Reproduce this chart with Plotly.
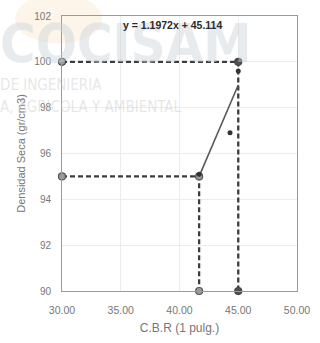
import plotly.graph_objects as go

# Trend line of dry density vs. CBR
slope = 1.1972
intercept = 45.114

# Measured points
cbr = [41.67, 44.3, 45.0]
densidad = [95.1, 96.9, 99.6]

# Reference levels (100 % and 95 % of maximum dry density)
cbr_100 = 45.0
cbr_95 = 41.67
dens_100 = 100
dens_95 = 95
x_min, x_max = 30, 50
y_min, y_max = 90, 102

x_ticks = [30, 35, 40, 45, 50]
x_tick_labels = ["30.00", "35.00", "40.00", "45.00", "50.00"]
y_ticks = [90, 92, 94, 96, 98, 100, 102]

font_family = "Liberation Sans, Arial"
dash_color = "#3c3c3c"
mark_font = "DejaVu Sans Condensed, DejaVu Sans"

fig = go.Figure()

# 95 % guide
fig.add_trace(go.Scatter(
    x=[x_min, cbr_95, cbr_95], y=[dens_95, dens_95, y_min],
    mode="lines+markers",
    line=dict(color=dash_color, width=2.3, dash="5px,3px"),
    marker=dict(size=7, color="#9a9a9a", line=dict(color="#555", width=1.2)),
    hoverinfo="skip", showlegend=False, cliponaxis=False,
))

# 100 % guide
fig.add_trace(go.Scatter(
    x=[x_min, cbr_100, cbr_100], y=[dens_100, dens_100, y_min],
    mode="lines+markers",
    line=dict(color=dash_color, width=2.3, dash="5px,3px"),
    marker=dict(size=7, color=["#9a9a9a", "#505050", "#505050"],
                line=dict(color="#444", width=1.2)),
    hoverinfo="skip", showlegend=False, cliponaxis=False,
))

# Linear trend over the measured range
tx = [min(cbr), max(cbr)]
ty = [slope * v + intercept for v in tx]
fig.add_trace(go.Scatter(
    x=tx, y=ty, mode="lines",
    line=dict(color="#5a5a5a", width=1.6),
    hoverinfo="skip", showlegend=False,
))

# Measured points
fig.add_trace(go.Scatter(
    x=cbr, y=densidad, mode="markers",
    marker=dict(size=5, color="#333333"),
    showlegend=False,
))

# Faded letterhead behind the plot
fig.add_shape(type="circle", xref="paper", yref="paper", layer="below",
              x0=-0.2, x1=0.17, y0=0.9, y1=1.08,
              fillcolor="rgba(246,205,160,0.22)", line=dict(width=0))
fig.add_annotation(x=0.0, y=1.0, xref="paper", yref="paper", xanchor="left", yanchor="top",
                   xshift=-64, yshift=6,
                   text="<b>COCISAM</b>", showarrow=False,
                   font=dict(family=mark_font, size=54, color="rgba(205,210,215,0.45)"))
fig.add_annotation(x=0.0, y=1.0, xref="paper", yref="paper", xanchor="left", yanchor="top",
                   xshift=-64, yshift=-58,
                   text="DE INGENIERIA", showarrow=False,
                   font=dict(family=mark_font, size=15, color="rgba(200,200,200,0.45)"))
fig.add_annotation(x=0.0, y=1.0, xref="paper", yref="paper", xanchor="left", yanchor="top",
                   xshift=-64, yshift=-80,
                   text="A, AGRICOLA Y AMBIENTAL", showarrow=False,
                   font=dict(family=mark_font, size=15, color="rgba(200,200,200,0.45)"))

# Trend equation
fig.add_annotation(x=0.47, y=0.995, xref="paper", yref="paper", xanchor="center", yanchor="top",
                   text="<b>y = %.4fx + %.3f</b>" % (slope, intercept), showarrow=False,
                   font=dict(family=font_family, size=10.5, color="#2a2a2a"))

fig.update_layout(
    width=320, height=343,
    margin=dict(l=62, r=17, t=10, b=51),
    paper_bgcolor="white", plot_bgcolor="white",
    font=dict(family=font_family, size=10, color="#777777"),
)
fig.update_xaxes(
    range=[x_min, x_max], tickvals=x_ticks, ticktext=x_tick_labels,
    showgrid=True, gridcolor="#ececec", gridwidth=1,
    showline=True, linecolor="#9a9a9a", linewidth=1, mirror=True,
    zeroline=False, ticks="outside", ticklen=9, tickcolor="rgba(0,0,0,0)",
    tickfont=dict(size=10.5),
    title=dict(text="C.B.R (1 pulg.)", font=dict(size=12, color="#777"), standoff=9),
)
fig.update_yaxes(
    range=[y_min, y_max], tickvals=y_ticks,
    showgrid=True, gridcolor="#ececec", gridwidth=1,
    showline=True, linecolor="#9a9a9a", linewidth=1, mirror=True,
    zeroline=False, ticks="outside", ticklen=8, tickcolor="rgba(0,0,0,0)",
    title=dict(text="Densidad Seca (gr/cm3)", font=dict(size=11, color="#777"), standoff=6),
)

fig.write_html("out.html")
